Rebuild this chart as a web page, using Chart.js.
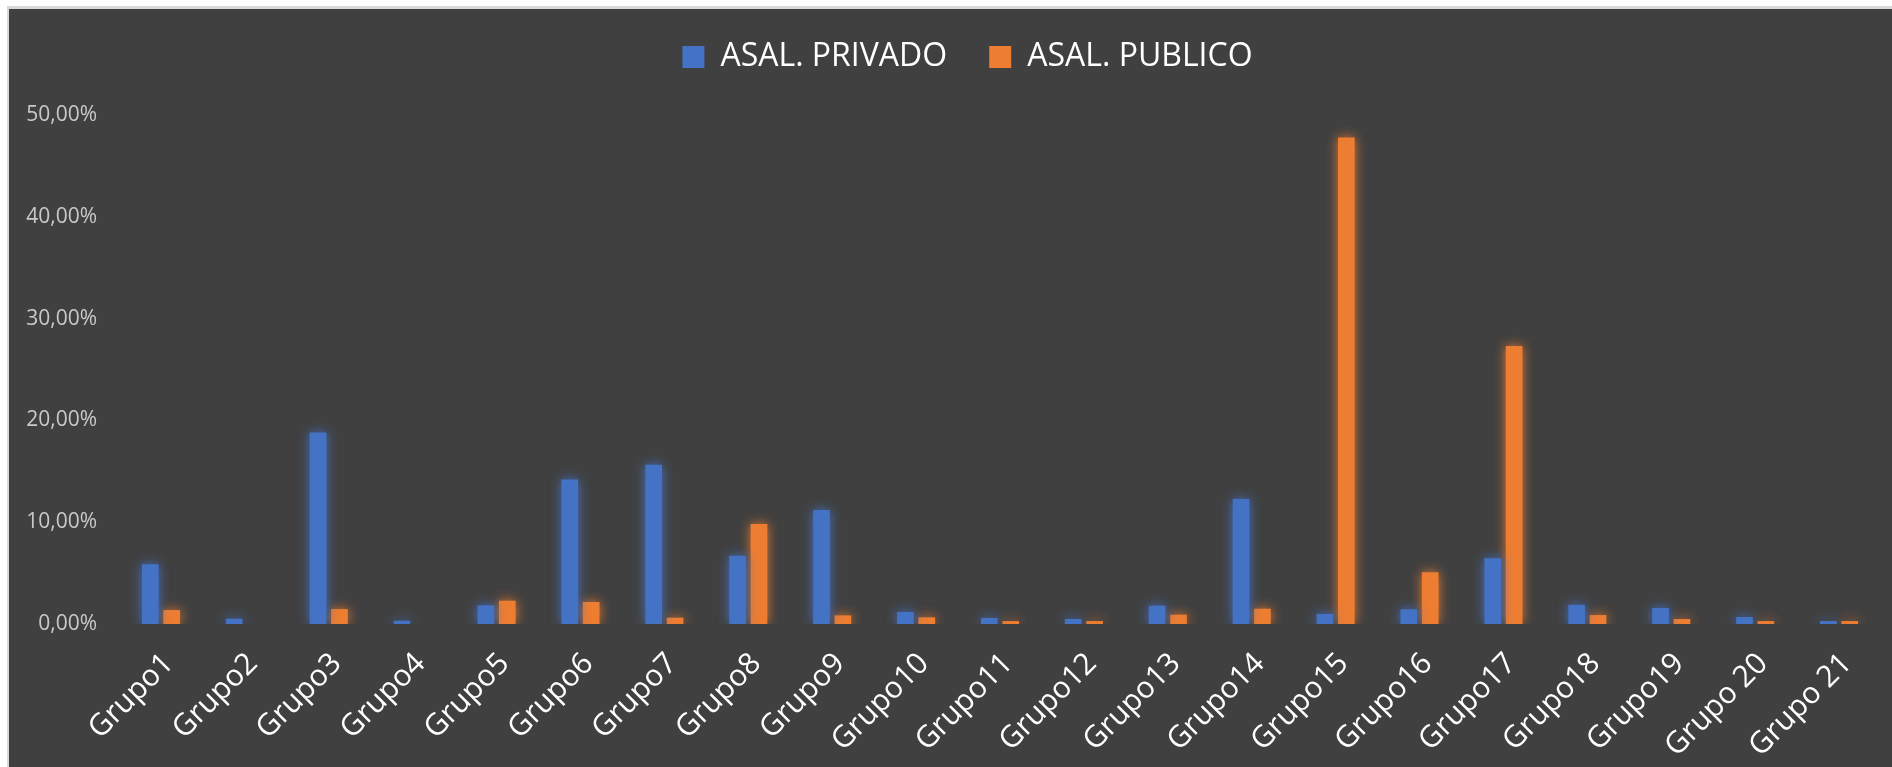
<!DOCTYPE html>
<html><head><meta charset="utf-8"><title>Asalariados por grupo</title>
<script src="https://cdn.jsdelivr.net/npm/chart.js"></script>
<style>
  html,body{margin:0;padding:0;background:#fff;overflow:hidden;width:1892px;height:767px}
  #box{position:absolute;left:7px;top:6px;width:1900px;height:780px;background:#404040;border-top:3px solid #d9d9d9;border-left:2px solid #d9d9d9;overflow:hidden}
  #wrap{position:absolute;left:0;top:-10px;width:1883px;height:771px}
</style></head><body>
<div id="box"><div id="wrap"><canvas id="chart" width="1883" height="771"></canvas></div></div>
<script>
// valores (porcentaje sobre el total de cada sector)
const grupos=['Grupo1','Grupo2','Grupo3','Grupo4','Grupo5','Grupo6','Grupo7','Grupo8','Grupo9','Grupo10','Grupo11','Grupo12','Grupo13','Grupo14','Grupo15','Grupo16','Grupo17','Grupo18','Grupo19','Grupo 20','Grupo 21'];
const privado=[5.86,0.52,18.8,0.33,1.83,14.2,15.65,6.71,11.2,1.18,0.59,0.49,1.8,12.28,0.98,1.44,6.45,1.87,1.57,0.69,0.29];
const publico=[1.37,0,1.47,0,2.29,2.16,0.62,9.82,0.85,0.66,0.29,0.29,0.92,1.5,47.8,5.08,27.3,0.88,0.49,0.29,0.29];
const yTicks=[0,10,20,30,40,50];
const series=[
  {label:'ASAL. PRIVADO', data:privado, color:'#4472C4', glow:'rgba(68,114,196,1)'},
  {label:'ASAL. PUBLICO', data:publico, color:'#ED7D31', glow:'rgba(237,125,49,0.95)'}
];

function fmtPct(v){ return Number(v).toFixed(2).replace('.',',')+'%'; }

// halo suave alrededor de las barras (como el "resplandor" de Excel)
const glow={id:'glow',
  beforeDatasetDraw(chart,args){ const c=chart.ctx; c.save(); c.shadowColor=series[args.index].glow; c.shadowBlur=12; },
  afterDatasetDraw(chart){ chart.ctx.restore(); }
};
// espacio extra bajo la leyenda + leyenda algo desplazada a la derecha
const legendGap={id:'legendGap',
  beforeInit(chart){ const lg=chart.legend; if(!lg) return; const fit=lg.fit; lg.fit=function(){ fit.call(this); this.height+=32; }; },
  afterLayout(chart){ const lg=chart.legend; if(lg){ lg.left+=14; lg.right+=14; } }
};

Chart.defaults.font.family="'Open Sans', sans-serif";
new Chart(document.getElementById('chart'),{
  type:'bar',
  data:{ labels:grupos, datasets:series.map(s=>({label:s.label,data:s.data,backgroundColor:s.color,borderWidth:0,categoryPercentage:0.51,barPercentage:0.78})) },
  options:{
    responsive:false, animation:false, devicePixelRatio:1,
    layout:{padding:{left:17,right:11,top:0,bottom:0}},
    plugins:{
      legend:{position:'top',labels:{color:'#ffffff',font:{size:32},boxWidth:22,boxHeight:22,padding:42}},
      tooltip:{enabled:false}
    },
    scales:{
      x:{ grid:{display:false,drawTicks:false}, border:{display:false},
          ticks:{color:'#ffffff',font:{size:30},minRotation:45,maxRotation:45,autoSkip:false,padding:22,labelOffset:8},
          afterFit(s){ s.height=146; } },
      y:{ min:0, max:50, grid:{display:false,drawTicks:false}, border:{display:false},
          ticks:{color:'#c9c9c9',font:{size:21},padding:22,callback:fmtPct},
          afterBuildTicks(s){ s.ticks=yTicks.map(v=>({value:v})); },
          afterFit(s){ s.width=93; } }
    }
  },
  plugins:[glow,legendGap]
});
</script>
</body></html>
